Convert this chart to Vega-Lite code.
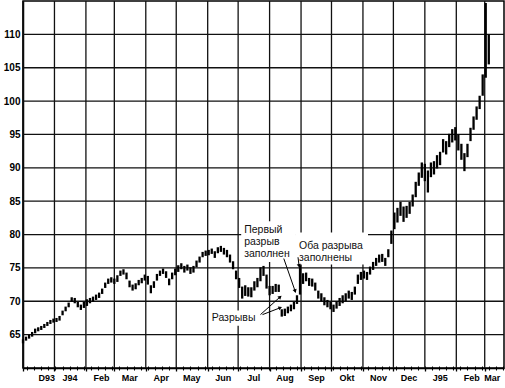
{
  "$schema": "https://vega.github.io/schema/vega-lite/v6.json",
  "width": 481,
  "height": 367,
  "autosize": {"type": "none"},
  "padding": {"left": 23, "top": 1, "right": 1, "bottom": 20},
  "background": "#ffffff",
  "config": {
    "view": {"stroke": "#000000", "strokeWidth": 1.5},
    "font": "Liberation Sans",
    "axis": {
      "domainColor": "#000000", "domainWidth": 1.5,
      "labelFont": "Liberation Sans", "labelFontWeight": "bold", "labelColor": "#000000",
      "tickColor": "#000000", "grid": false
    }
  },
  "datasets": {
    "levels": [{"p":65},{"p":70},{"p":75},{"p":80},{"p":85},{"p":90},{"p":95},{"p":100},{"p":105},{"p":110}],
    "months": [
      {"d":"1993-12-01"},{"d":"1994-01-01"},{"d":"1994-02-01"},{"d":"1994-03-01"},{"d":"1994-04-01"},
      {"d":"1994-05-01"},{"d":"1994-06-01"},{"d":"1994-07-01"},{"d":"1994-08-01"},{"d":"1994-09-01"},
      {"d":"1994-10-01"},{"d":"1994-11-01"},{"d":"1994-12-01"},{"d":"1995-01-01"},{"d":"1995-02-01"},{"d":"1995-03-01"}
    ],
    "bars": [
      {"d":"1993-12-01","l":63.7,"h":64.3},
      {"d":"1993-12-04","l":64.1,"h":64.7},
      {"d":"1993-12-07","l":64.4,"h":65.0},
      {"d":"1993-12-10","l":64.7,"h":65.4},
      {"d":"1993-12-13","l":65.2,"h":65.9},
      {"d":"1993-12-16","l":65.5,"h":66.1},
      {"d":"1993-12-19","l":65.7,"h":66.3},
      {"d":"1993-12-22","l":66.0,"h":66.6},
      {"d":"1993-12-25","l":66.3,"h":66.9},
      {"d":"1993-12-28","l":66.6,"h":67.2},
      {"d":"1993-12-31","l":66.8,"h":67.4},
      {"d":"1994-01-03","l":66.9,"h":67.5},
      {"d":"1994-01-06","l":67.1,"h":67.8},
      {"d":"1994-01-09","l":67.9,"h":68.6},
      {"d":"1994-01-12","l":68.5,"h":69.2},
      {"d":"1994-01-15","l":69.1,"h":69.8},
      {"d":"1994-01-18","l":69.9,"h":70.6},
      {"d":"1994-01-21","l":69.7,"h":70.5},
      {"d":"1994-01-24","l":69.1,"h":69.9},
      {"d":"1994-01-27","l":68.7,"h":69.5},
      {"d":"1994-01-30","l":69.0,"h":69.9},
      {"d":"1994-02-02","l":69.3,"h":70.3},
      {"d":"1994-02-05","l":69.7,"h":70.5},
      {"d":"1994-02-08","l":69.9,"h":70.7},
      {"d":"1994-02-11","l":70.2,"h":71.0},
      {"d":"1994-02-14","l":70.5,"h":71.3},
      {"d":"1994-02-17","l":71.1,"h":71.9},
      {"d":"1994-02-20","l":72.0,"h":72.8},
      {"d":"1994-02-23","l":72.6,"h":73.4},
      {"d":"1994-02-26","l":72.8,"h":73.6},
      {"d":"1994-03-01","l":72.6,"h":73.4},
      {"d":"1994-03-04","l":72.9,"h":73.9},
      {"d":"1994-03-07","l":73.8,"h":74.6},
      {"d":"1994-03-10","l":74.0,"h":74.8},
      {"d":"1994-03-13","l":73.3,"h":74.3},
      {"d":"1994-03-16","l":72.1,"h":73.1},
      {"d":"1994-03-19","l":71.6,"h":72.5},
      {"d":"1994-03-22","l":71.8,"h":72.7},
      {"d":"1994-03-25","l":72.4,"h":73.2},
      {"d":"1994-03-28","l":72.7,"h":73.5},
      {"d":"1994-03-31","l":73.1,"h":74.0},
      {"d":"1994-04-03","l":72.5,"h":73.8},
      {"d":"1994-04-06","l":71.2,"h":72.4},
      {"d":"1994-04-09","l":72.0,"h":73.0},
      {"d":"1994-04-12","l":73.1,"h":74.1},
      {"d":"1994-04-15","l":73.8,"h":74.6},
      {"d":"1994-04-18","l":74.1,"h":74.9},
      {"d":"1994-04-21","l":73.5,"h":74.5},
      {"d":"1994-04-24","l":72.4,"h":73.4},
      {"d":"1994-04-27","l":73.3,"h":74.3},
      {"d":"1994-04-30","l":73.9,"h":74.9},
      {"d":"1994-05-03","l":74.4,"h":75.4},
      {"d":"1994-05-06","l":74.8,"h":75.7},
      {"d":"1994-05-09","l":74.3,"h":75.3},
      {"d":"1994-05-12","l":74.6,"h":75.5},
      {"d":"1994-05-15","l":74.1,"h":75.1},
      {"d":"1994-05-18","l":74.3,"h":75.3},
      {"d":"1994-05-21","l":75.1,"h":76.1},
      {"d":"1994-05-24","l":75.8,"h":76.7},
      {"d":"1994-05-27","l":76.6,"h":77.4},
      {"d":"1994-05-30","l":76.8,"h":77.6},
      {"d":"1994-06-02","l":76.9,"h":77.7},
      {"d":"1994-06-05","l":77.1,"h":77.9},
      {"d":"1994-06-08","l":76.5,"h":77.5},
      {"d":"1994-06-11","l":77.2,"h":78.1},
      {"d":"1994-06-14","l":77.4,"h":78.3},
      {"d":"1994-06-17","l":77.0,"h":78.0},
      {"d":"1994-06-20","l":76.6,"h":77.7},
      {"d":"1994-06-23","l":75.8,"h":77.0},
      {"d":"1994-06-26","l":74.8,"h":76.0},
      {"d":"1994-06-29","l":73.3,"h":74.6},
      {"d":"1994-07-02","l":72.0,"h":73.5},
      {"d":"1994-07-05","l":70.4,"h":72.2},
      {"d":"1994-07-08","l":70.8,"h":72.4},
      {"d":"1994-07-11","l":70.7,"h":72.1},
      {"d":"1994-07-14","l":70.6,"h":72.1},
      {"d":"1994-07-17","l":71.6,"h":73.0},
      {"d":"1994-07-20","l":72.1,"h":73.5},
      {"d":"1994-07-23","l":73.0,"h":75.1},
      {"d":"1994-07-26","l":73.8,"h":75.3},
      {"d":"1994-07-29","l":71.9,"h":74.0},
      {"d":"1994-08-01","l":70.9,"h":72.3},
      {"d":"1994-08-04","l":71.1,"h":72.3},
      {"d":"1994-08-07","l":71.4,"h":72.6},
      {"d":"1994-08-10","l":71.4,"h":72.5},
      {"d":"1994-08-13","l":67.7,"h":68.8},
      {"d":"1994-08-16","l":67.8,"h":68.9},
      {"d":"1994-08-19","l":68.2,"h":69.2},
      {"d":"1994-08-22","l":68.5,"h":69.5},
      {"d":"1994-08-25","l":68.8,"h":69.9},
      {"d":"1994-08-28","l":69.6,"h":70.9},
      {"d":"1994-08-31","l":71.0,"h":75.4},
      {"d":"1994-09-03","l":72.6,"h":74.2},
      {"d":"1994-09-06","l":73.0,"h":74.3},
      {"d":"1994-09-09","l":72.3,"h":73.5},
      {"d":"1994-09-12","l":72.2,"h":73.4},
      {"d":"1994-09-15","l":71.6,"h":72.8},
      {"d":"1994-09-18","l":70.4,"h":71.6},
      {"d":"1994-09-21","l":70.0,"h":71.2},
      {"d":"1994-09-24","l":69.4,"h":70.6},
      {"d":"1994-09-27","l":69.1,"h":70.2},
      {"d":"1994-09-30","l":68.8,"h":69.9},
      {"d":"1994-10-03","l":68.4,"h":69.5},
      {"d":"1994-10-06","l":68.9,"h":70.0},
      {"d":"1994-10-09","l":69.3,"h":70.5},
      {"d":"1994-10-12","l":69.7,"h":70.9},
      {"d":"1994-10-15","l":70.0,"h":71.2},
      {"d":"1994-10-18","l":70.4,"h":71.6},
      {"d":"1994-10-21","l":70.2,"h":71.4},
      {"d":"1994-10-24","l":71.0,"h":72.2},
      {"d":"1994-10-27","l":72.6,"h":74.0},
      {"d":"1994-10-30","l":73.2,"h":74.4},
      {"d":"1994-11-02","l":73.4,"h":74.6},
      {"d":"1994-11-05","l":73.2,"h":74.4},
      {"d":"1994-11-08","l":74.0,"h":75.2},
      {"d":"1994-11-11","l":74.7,"h":75.9},
      {"d":"1994-11-14","l":75.3,"h":76.5},
      {"d":"1994-11-17","l":75.8,"h":77.0},
      {"d":"1994-11-20","l":75.9,"h":77.1},
      {"d":"1994-11-23","l":75.3,"h":76.5},
      {"d":"1994-11-26","l":76.6,"h":77.8},
      {"d":"1994-11-29","l":78.6,"h":80.6},
      {"d":"1994-12-02","l":80.8,"h":83.3},
      {"d":"1994-12-05","l":81.8,"h":84.0},
      {"d":"1994-12-08","l":82.8,"h":84.9},
      {"d":"1994-12-11","l":81.9,"h":84.2},
      {"d":"1994-12-14","l":82.5,"h":84.3},
      {"d":"1994-12-17","l":83.1,"h":84.9},
      {"d":"1994-12-20","l":84.2,"h":86.0},
      {"d":"1994-12-23","l":85.6,"h":87.9},
      {"d":"1994-12-26","l":87.3,"h":89.3},
      {"d":"1994-12-29","l":88.5,"h":90.8},
      {"d":"1995-01-01","l":88.0,"h":90.6},
      {"d":"1995-01-04","l":86.3,"h":89.6},
      {"d":"1995-01-07","l":88.6,"h":90.8},
      {"d":"1995-01-10","l":89.0,"h":91.0},
      {"d":"1995-01-13","l":89.9,"h":91.9},
      {"d":"1995-01-16","l":90.4,"h":92.4},
      {"d":"1995-01-19","l":92.3,"h":94.3},
      {"d":"1995-01-22","l":92.0,"h":94.0},
      {"d":"1995-01-25","l":93.1,"h":95.1},
      {"d":"1995-01-28","l":93.8,"h":95.8},
      {"d":"1995-01-31","l":94.1,"h":96.1},
      {"d":"1995-02-03","l":92.6,"h":95.0},
      {"d":"1995-02-06","l":91.2,"h":93.6},
      {"d":"1995-02-09","l":89.5,"h":92.2},
      {"d":"1995-02-12","l":91.6,"h":93.6},
      {"d":"1995-02-15","l":94.0,"h":96.0},
      {"d":"1995-02-18","l":95.7,"h":97.7},
      {"d":"1995-02-21","l":97.2,"h":99.2},
      {"d":"1995-02-24","l":98.8,"h":100.8},
      {"d":"1995-02-27","l":100.8,"h":104.0},
      {"d":"1995-03-02","l":103.5,"h":114.7},
      {"d":"1995-03-05","l":105.5,"h":110.0}
    ],
    "boxes": [
      {"d":"1994-07-04","d2":"1994-08-27","p":82.0,"p2":75.9},
      {"d":"1994-08-27","d2":"1994-11-06","p":80.3,"p2":75.5},
      {"d":"1994-06-03","d2":"1994-07-18","p":68.6,"p2":66.35}
    ],
    "arrows": [
      {"d":"1994-08-15","p":76.4,"d2":"1994-08-26","p2":71.6,"a":162},
      {"d":"1994-08-29","p":76.6,"d2":"1994-08-30","p2":75.4,"a":170},
      {"d":"1994-07-23","p":68.0,"d2":"1994-08-11","p2":70.6,"a":48},
      {"d":"1994-07-25","p":68.0,"d2":"1994-08-11","p2":69.0,"a":68}
    ],
    "labels": [
      {"d":"1994-07-07","p":80.2,"t":"Первый"},
      {"d":"1994-07-07","p":78.4,"t":"разрыв"},
      {"d":"1994-07-07","p":76.6,"t":"заполнен"},
      {"d":"1994-08-30","p":77.8,"t":"Оба разрыва"},
      {"d":"1994-08-30","p":76.0,"t":"заполнены"},
      {"d":"1994-06-05","p":67.1,"t":"Разрывы"}
    ]
  },
  "layer": [
    {
      "data": {"name": "levels"},
      "mark": {"type": "rule", "color": "#111111", "strokeWidth": 1.3},
      "encoding": {
        "y": {
          "field": "p", "type": "quantitative",
          "scale": {"domain": [60, 115], "nice": false, "zero": false},
          "axis": {
            "values": [65, 70, 75, 80, 85, 90, 95, 100, 105, 110],
            "tickSize": 0, "labelPadding": 3, "labelFontSize": 10,
            "title": null
          }
        }
      }
    },
    {
      "data": {"name": "months"},
      "mark": {"type": "rule", "color": "#111111", "strokeWidth": 1.3},
      "encoding": {
        "x": {
          "field": "d", "type": "temporal",
          "scale": {"type": "utc", "domain": [{"year":1993,"month":12,"date":1,"utc":true},{"year":1995,"month":3,"date":20,"utc":true}], "nice": false},
          "axis": {
            "orient": "bottom",
            "values": [
              {"year":1993,"month":12,"date":1,"utc":true},
              {"year":1994,"month":1,"date":1,"utc":true},
              {"year":1994,"month":2,"date":1,"utc":true},
              {"year":1994,"month":3,"date":1,"utc":true},
              {"year":1994,"month":4,"date":1,"utc":true},
              {"year":1994,"month":5,"date":1,"utc":true},
              {"year":1994,"month":6,"date":1,"utc":true},
              {"year":1994,"month":7,"date":1,"utc":true},
              {"year":1994,"month":8,"date":1,"utc":true},
              {"year":1994,"month":9,"date":1,"utc":true},
              {"year":1994,"month":10,"date":1,"utc":true},
              {"year":1994,"month":11,"date":1,"utc":true},
              {"year":1994,"month":12,"date":1,"utc":true},
              {"year":1995,"month":1,"date":1,"utc":true},
              {"year":1995,"month":2,"date":1,"utc":true},
              {"year":1995,"month":3,"date":1,"utc":true}
            ],
            "labelExpr": "utcmonth(datum.value)==0 ? (utcyear(datum.value)==1994 ? 'J94' : 'J95') : (utcmonth(datum.value)==11 && utcyear(datum.value)==1993) ? 'D93' : ['Jan','Feb','Mar','Apr','May','Jun','Jul','Aug','Sep','Okt','Nov','Dec'][utcmonth(datum.value)]",
            "labelOffset": {"condition": {"test": "utcyear(datum.value)==1995 && utcmonth(datum.value)==2", "value": 7}, "value": 15},
            "tickSize": 3, "tickWidth": 1.3,
            "labelPadding": 2, "labelFontSize": 9,
            "title": null
          }
        }
      }
    },
    {
      "data": {"name": "boxes", "format": {"parse": {"d": "date", "d2": "date"}}},
      "mark": {"type": "rect", "fill": "#ffffff", "strokeWidth": 0},
      "encoding": {
        "x": {"field": "d", "type": "temporal", "scale": {"type": "utc", "domain": [{"year":1993,"month":12,"date":1,"utc":true},{"year":1995,"month":3,"date":20,"utc":true}], "nice": false}, "axis": null},
        "x2": {"field": "d2"},
        "y": {"field": "p", "type": "quantitative", "scale": {"domain": [60, 115], "nice": false, "zero": false}, "axis": null},
        "y2": {"field": "p2"}
      }
    },
    {
      "data": {"name": "bars"},
      "mark": {"type": "rule", "color": "#000000", "strokeWidth": 2.3},
      "encoding": {
        "x": {
          "field": "d", "type": "temporal",
          "scale": {"type": "utc", "domain": [{"year":1993,"month":12,"date":1,"utc":true},{"year":1995,"month":3,"date":20,"utc":true}], "nice": false},
          "axis": {
            "orient": "bottom",
            "tickCount": {"interval": "week", "step": 1},
            "offset": -2, "tickSize": 4, "tickWidth": 1.1,
            "labels": false, "domain": false, "title": null
          }
        },
        "y": {"field": "l", "type": "quantitative", "scale": {"domain": [60, 115], "nice": false, "zero": false}, "axis": null},
        "y2": {"field": "h"}
      }
    },
    {
      "data": {"name": "arrows", "format": {"parse": {"d": "date", "d2": "date"}}},
      "mark": {"type": "rule", "color": "#000000", "strokeWidth": 1},
      "encoding": {
        "x": {"field": "d", "type": "temporal", "scale": {"type": "utc", "domain": [{"year":1993,"month":12,"date":1,"utc":true},{"year":1995,"month":3,"date":20,"utc":true}], "nice": false}, "axis": null},
        "x2": {"field": "d2"},
        "y": {"field": "p", "type": "quantitative", "scale": {"domain": [60, 115], "nice": false, "zero": false}, "axis": null},
        "y2": {"field": "p2"}
      }
    },
    {
      "data": {"name": "arrows", "format": {"parse": {"d": "date", "d2": "date"}}},
      "mark": {"type": "point", "shape": "triangle", "filled": true, "color": "#000000", "size": 18, "opacity": 1},
      "encoding": {
        "x": {"field": "d2", "type": "temporal", "scale": {"type": "utc", "domain": [{"year":1993,"month":12,"date":1,"utc":true},{"year":1995,"month":3,"date":20,"utc":true}], "nice": false}, "axis": null},
        "y": {"field": "p2", "type": "quantitative", "scale": {"domain": [60, 115], "nice": false, "zero": false}, "axis": null},
        "angle": {"field": "a", "type": "quantitative", "scale": null}
      }
    },
    {
      "data": {"name": "labels"},
      "mark": {"type": "text", "align": "left", "baseline": "alphabetic", "font": "Liberation Sans", "fontSize": 10.5, "color": "#111111"},
      "encoding": {
        "x": {"field": "d", "type": "temporal", "scale": {"type": "utc", "domain": [{"year":1993,"month":12,"date":1,"utc":true},{"year":1995,"month":3,"date":20,"utc":true}], "nice": false}, "axis": null},
        "y": {"field": "p", "type": "quantitative", "scale": {"domain": [60, 115], "nice": false, "zero": false}, "axis": null},
        "text": {"field": "t"}
      }
    }
  ],
  "resolve": {"axis": {"x": "independent", "y": "independent"}}
}
